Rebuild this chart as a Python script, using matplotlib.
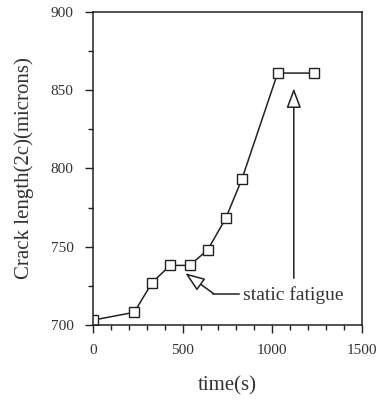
import numpy as np
import matplotlib.pyplot as plt
from matplotlib.ticker import MultipleLocator

# data
time_s = [0, 230, 330, 430, 540, 640, 740, 830, 1030, 1230]
crack_len = [703, 708, 727, 738, 738, 748, 768, 793, 861, 861]

plt.rcParams['font.family'] = ['Liberation Serif', 'DejaVu Serif']

fig = plt.figure(figsize=(3.81, 4.03), dpi=100)
ax = fig.add_axes([0.244, 0.194, 0.706, 0.776])

ax.plot(time_s, crack_len, '-s', color='#222222', lw=1.1,
        mfc='white', mec='#222222', ms=6.5, mew=1.0)

ax.set_xlim(0, 1500)
ax.set_ylim(700, 900)
ax.xaxis.set_major_locator(MultipleLocator(500))
ax.xaxis.set_minor_locator(MultipleLocator(100))
ax.yaxis.set_major_locator(MultipleLocator(50))
ax.yaxis.set_minor_locator(MultipleLocator(25))
ax.tick_params(which='major', length=6, width=1, labelsize=11, color='#222222',
               labelcolor='#333333')
ax.tick_params(axis='y', which='major', pad=8)
ax.tick_params(axis='x', which='major', pad=8)
ax.tick_params(which='minor', length=3.5, width=1, color='#222222')
for s in ax.spines.values():
    s.set_linewidth(1.1)
    s.set_color('#222222')

ax.set_xlabel('time(s)', fontsize=15, color='#333333', labelpad=14)
ax.set_ylabel('Crack length(2c)(microns)', fontsize=15, color='#333333', labelpad=12)

# arrow pointing up to plateau
ax.annotate('', xy=(1120, 853), xytext=(1120, 728),
            arrowprops=dict(arrowstyle='-|>,head_length=1.2,head_width=0.45',
                            fc='white', ec='#222222', lw=1.1))

# static fatigue label with bent arrow
ax.plot([812, 672], [720, 720], color='#222222', lw=1.1)
ax.annotate('', xy=(515, 733), xytext=(672, 720),
            arrowprops=dict(arrowstyle='-|>,head_length=1.2,head_width=0.45',
                            fc='white', ec='#222222', lw=1.1, shrinkA=0, shrinkB=0))
ax.text(835, 719, 'static fatigue', fontsize=14, color='#333333',
        va='center', ha='left')

fig.savefig('out.png', dpi=100)
